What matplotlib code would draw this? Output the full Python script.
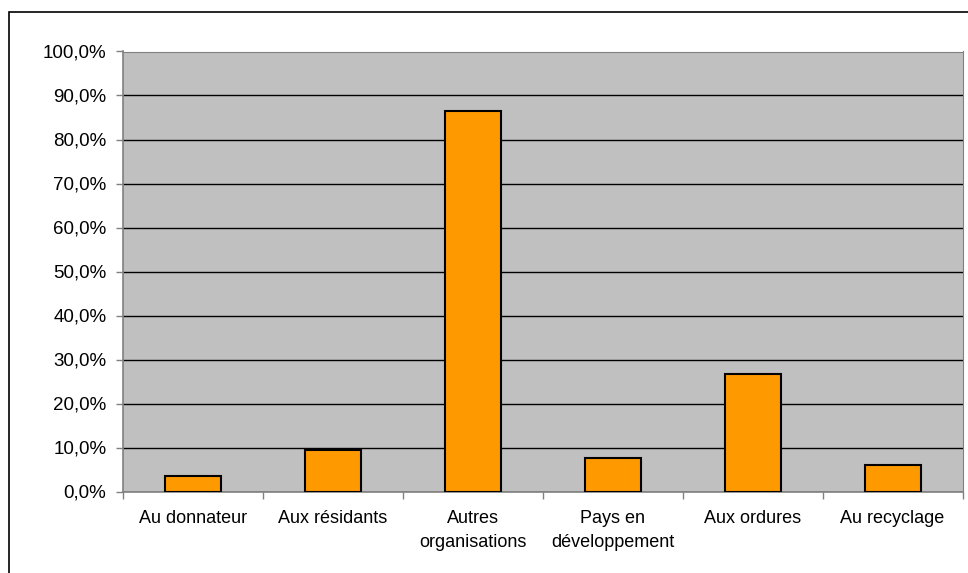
import matplotlib.pyplot as plt
from matplotlib.patches import Rectangle
from matplotlib.ticker import FuncFormatter, MultipleLocator

plt.rcParams['font.family'] = ['Liberation Sans', 'DejaVu Sans']

# Data
categories = ["Au donnateur", "Aux résidants", "Autres\norganisations",
              "Pays en\ndéveloppement", "Aux ordures", "Au recyclage"]
values = [3.6, 9.5, 86.4, 7.7, 26.8, 6.0]

fig = plt.figure(figsize=(9.68, 5.73), dpi=100)
# outer chart border (cropped on right/bottom)
fig.patches.append(Rectangle((9 / 968, -0.1), 1.1, (573 - 12) / 573 + 0.1,
                             transform=fig.transFigure, fill=False,
                             edgecolor="black", linewidth=1.2))

ax = fig.add_axes([123 / 968, 1 - 491.5 / 573, (962.5 - 123) / 968, 440 / 573])
ax.set_facecolor("#C0C0C0")

x = range(len(categories))
ax.bar(x, values, width=0.4, color="#FF9900", edgecolor="black",
       linewidth=1.5, zorder=3)

ax.set_xlim(-0.5, len(categories) - 0.5)
ax.set_ylim(0, 100)
ax.yaxis.set_major_locator(MultipleLocator(10))
ax.yaxis.set_major_formatter(FuncFormatter(lambda v, p: f"{v:.1f}%".replace(".", ",")))
ax.grid(axis="y", color="black", linewidth=1, zorder=1)

ax.set_xticks([i + 0.5 for i in range(-1, len(categories))])
ax.set_xticklabels([])
ax.set_xticks(list(x), minor=True)
ax.set_xticklabels(categories, minor=True, fontsize=13, linespacing=1.55)
ax.tick_params(axis="x", which="minor", length=0, pad=13)
ax.tick_params(axis="x", which="major", length=5, width=1, color="#808080")
ax.tick_params(axis="y", length=5, width=1, color="#808080", labelsize=13.5, pad=7)

for side in ["top", "right"]:
    ax.spines[side].set_color("#808080")
for side in ["left", "bottom"]:
    ax.spines[side].set_color("#808080")
    ax.spines[side].set_linewidth(1.2)

fig.savefig("out.png", dpi=100)
